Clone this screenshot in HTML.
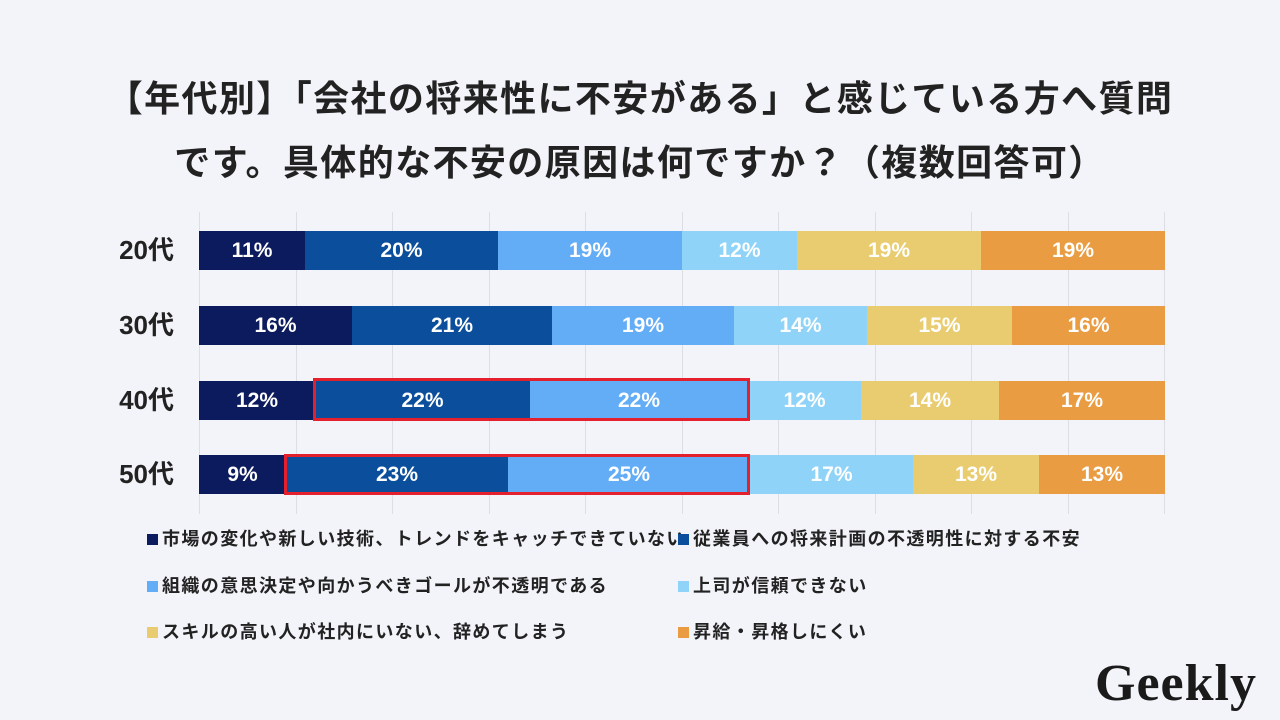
<!DOCTYPE html>
<html><head><meta charset="utf-8"><style>
body{margin:0;width:1280px;height:720px;background:#f2f4f9;position:relative;overflow:hidden;font-family:"Liberation Sans","Noto Sans CJK JP",sans-serif;color:#222}
.t{position:absolute;left:0;width:1280px;text-align:center;font-weight:bold;font-size:36px;letter-spacing:1.4px}
.g{position:absolute;top:212px;height:302px;width:1px;background:#dcdee3}
.s{position:absolute;height:39px;color:#fff;font-weight:bold;font-size:21px;display:flex;align-items:center;justify-content:center}
.lab{position:absolute;left:106px;font-size:26px;font-weight:bold;width:68px;text-align:right}
.r{position:absolute;border:3px solid #e3202b;box-sizing:border-box}
.l{position:absolute;font-size:18px;letter-spacing:1.4px;font-weight:bold;white-space:nowrap}
.l i{display:inline-block;width:11px;height:11px;margin-right:4px;vertical-align:0px}
</style></head><body>
<div class="t" style="top:70px">【年代別】「会社の将来性に不安がある」と感じている方へ質問</div>
<div class="t" style="top:134px">です。具体的な不安の原因は何ですか？（複数回答可）</div>
<div class="g" style="left:199px"></div><div class="g" style="left:296px"></div><div class="g" style="left:392px"></div><div class="g" style="left:489px"></div><div class="g" style="left:585px"></div><div class="g" style="left:682px"></div><div class="g" style="left:778px"></div><div class="g" style="left:875px"></div><div class="g" style="left:971px"></div><div class="g" style="left:1068px"></div><div class="g" style="left:1164px"></div>
<div class="lab" style="top:230px">20代</div><div class="lab" style="top:305px">30代</div><div class="lab" style="top:380px">40代</div><div class="lab" style="top:454px">50代</div>
<!-- 20 -->
<div class="s" style="top:231px;left:199px;width:106px;background:#0c1a5e">11%</div>
<div class="s" style="top:231px;left:305px;width:193px;background:#0b4e9b">20%</div>
<div class="s" style="top:231px;left:498px;width:184px;background:#63acf6">19%</div>
<div class="s" style="top:231px;left:682px;width:115px;background:#8fd4f8">12%</div>
<div class="s" style="top:231px;left:797px;width:184px;background:#e9cc70">19%</div>
<div class="s" style="top:231px;left:981px;width:184px;background:#e99c41">19%</div>
<!-- 30 -->
<div class="s" style="top:306px;left:199px;width:153px;background:#0c1a5e">16%</div>
<div class="s" style="top:306px;left:352px;width:200px;background:#0b4e9b">21%</div>
<div class="s" style="top:306px;left:552px;width:182px;background:#63acf6">19%</div>
<div class="s" style="top:306px;left:734px;width:133px;background:#8fd4f8">14%</div>
<div class="s" style="top:306px;left:867px;width:145px;background:#e9cc70">15%</div>
<div class="s" style="top:306px;left:1012px;width:153px;background:#e99c41">16%</div>
<!-- 40 -->
<div class="s" style="top:381px;left:199px;width:116px;background:#0c1a5e">12%</div>
<div class="s" style="top:381px;left:315px;width:215px;background:#0b4e9b">22%</div>
<div class="s" style="top:381px;left:530px;width:218px;background:#63acf6">22%</div>
<div class="s" style="top:381px;left:748px;width:113px;background:#8fd4f8">12%</div>
<div class="s" style="top:381px;left:861px;width:138px;background:#e9cc70">14%</div>
<div class="s" style="top:381px;left:999px;width:166px;background:#e99c41">17%</div>
<!-- 50 -->
<div class="s" style="top:455px;left:199px;width:87px;background:#0c1a5e">9%</div>
<div class="s" style="top:455px;left:286px;width:222px;background:#0b4e9b">23%</div>
<div class="s" style="top:455px;left:508px;width:242px;background:#63acf6">25%</div>
<div class="s" style="top:455px;left:750px;width:163px;background:#8fd4f8">17%</div>
<div class="s" style="top:455px;left:913px;width:126px;background:#e9cc70">13%</div>
<div class="s" style="top:455px;left:1039px;width:126px;background:#e99c41">13%</div>
<div class="r" style="left:313px;top:378px;width:437px;height:43px"></div>
<div class="r" style="left:284px;top:454px;width:466px;height:41px"></div>
<div class="l" style="left:147px;top:525px"><i style="background:#0c1a5e"></i>市場の変化や新しい技術、トレンドをキャッチできていない</div>
<div class="l" style="left:678px;top:525px"><i style="background:#0b4e9b"></i>従業員への将来計画の不透明性に対する不安</div>
<div class="l" style="left:147px;top:572px"><i style="background:#63acf6"></i>組織の意思決定や向かうべきゴールが不透明である</div>
<div class="l" style="left:678px;top:572px"><i style="background:#8fd4f8"></i>上司が信頼できない</div>
<div class="l" style="left:147px;top:618px"><i style="background:#e9cc70"></i>スキルの高い人が社内にいない、辞めてしまう</div>
<div class="l" style="left:678px;top:618px"><i style="background:#e99c41"></i>昇給・昇格しにくい</div>
<div style="position:absolute;left:1095px;top:654px;font-family:'Liberation Serif',serif;font-weight:bold;font-size:52px;color:#1a1a1a;letter-spacing:1px">Geekly</div>
</body></html>
